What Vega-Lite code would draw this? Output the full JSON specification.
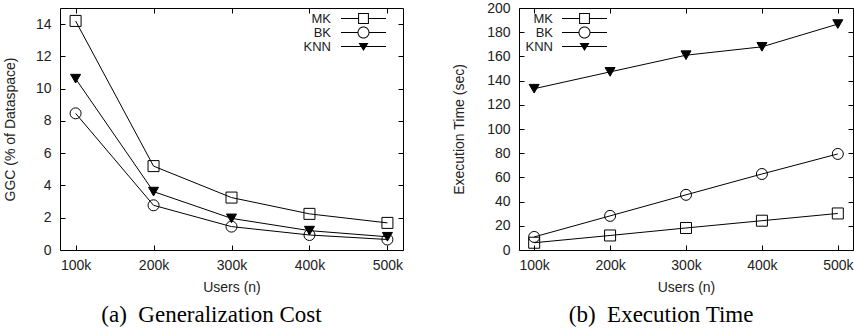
{
  "$schema": "https://vega.github.io/schema/vega-lite/v6.json",
  "background": "white",
  "padding": {"left": 2, "top": 0, "right": 0, "bottom": 0},
  "spacing": 48,
  "datasets": {
    "ggc": [
      {"n": 100, "series": "MK", "value": 14.2},
      {"n": 200, "series": "MK", "value": 5.2},
      {"n": 300, "series": "MK", "value": 3.25},
      {"n": 400, "series": "MK", "value": 2.24},
      {"n": 500, "series": "MK", "value": 1.68},
      {"n": 100, "series": "BK", "value": 8.47},
      {"n": 200, "series": "BK", "value": 2.77},
      {"n": 300, "series": "BK", "value": 1.45},
      {"n": 400, "series": "BK", "value": 0.93},
      {"n": 500, "series": "BK", "value": 0.65},
      {"n": 100, "series": "KNN", "value": 10.62},
      {"n": 200, "series": "KNN", "value": 3.62},
      {"n": 300, "series": "KNN", "value": 1.96},
      {"n": 400, "series": "KNN", "value": 1.2},
      {"n": 500, "series": "KNN", "value": 0.82}
    ],
    "time": [
      {"n": 100, "series": "MK", "value": 6},
      {"n": 200, "series": "MK", "value": 12},
      {"n": 300, "series": "MK", "value": 18.2},
      {"n": 400, "series": "MK", "value": 24.2},
      {"n": 500, "series": "MK", "value": 30.2},
      {"n": 100, "series": "BK", "value": 10.8},
      {"n": 200, "series": "BK", "value": 28.2},
      {"n": 300, "series": "BK", "value": 45.6},
      {"n": 400, "series": "BK", "value": 62.8},
      {"n": 500, "series": "BK", "value": 79.4},
      {"n": 100, "series": "KNN", "value": 133.3},
      {"n": 200, "series": "KNN", "value": 147.2},
      {"n": 300, "series": "KNN", "value": 161},
      {"n": 400, "series": "KNN", "value": 167.9},
      {"n": 500, "series": "KNN", "value": 186.7}
    ]
  },
  "hconcat": [
    {
      "width": 343,
      "height": 242,
      "data": {"name": "ggc"},
      "title": {"text": "(a)\u00a0 Generalization Cost", "orient": "bottom", "font": "Liberation Serif", "fontSize": 23, "fontWeight": "normal", "color": "black", "frame": "bounds", "anchor": "middle", "dx": 8, "offset": 10},
      "layer": [
        {
          "mark": {"type": "line", "color": "black", "strokeWidth": 1},
          "encoding": {
            "x": {"field": "n", "type": "quantitative", "scale": {"domain": [80, 520], "nice": false, "zero": false}, "axis": {"orient": "bottom", "values": [100, 200, 300, 400, 500], "labelExpr": "datum.value + 'k'", "title": "Users (n)", "labelPadding": 13, "titleY": 30, "titleBaseline": "top"}},
            "y": {"field": "value", "type": "quantitative", "scale": {"domain": [0, 15], "nice": false}, "axis": {"orient": "left", "values": [0, 2, 4, 6, 8, 10, 12, 14], "title": "GGC (% of Dataspace)", "labelPadding": 14, "titlePadding": 18}},
            "detail": {"field": "series"}
          }
        },
        {
          "mark": {"type": "point", "filled": true, "stroke": "black", "strokeWidth": 1, "opacity": 1},
          "encoding": {
            "x": {"field": "n", "type": "quantitative", "scale": {"domain": [80, 520], "nice": false, "zero": false}, "axis": {"orient": "top", "values": [100, 200, 300, 400, 500], "labels": false, "title": null}},
            "y": {"field": "value", "type": "quantitative", "scale": {"domain": [0, 15], "nice": false}, "axis": {"orient": "right", "values": [0, 2, 4, 6, 8, 10, 12, 14], "labels": false, "title": null}},
            "shape": {"condition": [{"test": "datum.series === 'MK'", "value": "square"}, {"test": "datum.series === 'BK'", "value": "circle"}], "value": "triangle-down"},
            "fill": {"condition": {"test": "datum.series === 'KNN'", "value": "black"}, "value": "transparent"},
            "size": {"condition": {"test": "datum.series === 'KNN'", "value": 100}, "value": 121}
          }
        },
        {
          "mark": {"type": "point", "filled": true, "color": "black", "opacity": 0},
          "encoding": {
            "shape": {"field": "series", "type": "nominal",
              "scale": {"domain": ["MK", "BK", "KNN"], "range": [
                "M-3.75,-0.083H-0.9V0.083H-3.75Z M0.9,-0.083H3.75V0.083H0.9Z M-0.9,-0.9H0.9V0.9H-0.9Z M-0.733,-0.733V0.733H0.733V-0.733Z",
                "M-3.75,-0.083H-1V0.083H-3.75Z M1,-0.083H3.75V0.083H1Z M1,0A1,1,0,1,1,-1,0A1,1,0,1,1,1,0Z M0.833,0A0.833,0.833,0,1,0,-0.833,0A0.833,0.833,0,1,0,0.833,0Z",
                "M-3.75,-0.083H3.75V0.083H-3.75Z M-0.83,-0.6L0.83,-0.6L0,0.75Z"]},
              "legend": {"orient": "none", "legendX": 297, "legendY": 4, "title": null, "padding": 0, "rowPadding": -2, "labelAlign": "right", "labelOffset": -39, "symbolSize": 144, "symbolFillColor": "black", "symbolStrokeColor": "transparent", "symbolStrokeWidth": 0, "symbolOpacity": 1}}
          }
        }
      ],
      "resolve": {"scale": {"x": "independent", "y": "independent"}}
    },
    {
      "width": 334,
      "height": 242,
      "data": {"name": "time"},
      "title": {"text": "(b)\u00a0 Execution Time", "orient": "bottom", "font": "Liberation Serif", "fontSize": 23, "fontWeight": "normal", "color": "black", "frame": "bounds", "anchor": "middle", "dx": 8, "offset": 10},
      "layer": [
        {
          "mark": {"type": "line", "color": "black", "strokeWidth": 1},
          "encoding": {
            "x": {"field": "n", "type": "quantitative", "scale": {"domain": [80, 520], "nice": false, "zero": false}, "axis": {"orient": "bottom", "values": [100, 200, 300, 400, 500], "labelExpr": "datum.value + 'k'", "title": "Users (n)", "labelPadding": 13, "titleY": 30, "titleBaseline": "top"}},
            "y": {"field": "value", "type": "quantitative", "scale": {"domain": [0, 200], "nice": false}, "axis": {"orient": "left", "values": [0, 20, 40, 60, 80, 100, 120, 140, 160, 180, 200], "title": "Execution Time (sec)", "labelPadding": 14, "titlePadding": 20}},
            "detail": {"field": "series"}
          }
        },
        {
          "mark": {"type": "point", "filled": true, "stroke": "black", "strokeWidth": 1, "opacity": 1},
          "encoding": {
            "x": {"field": "n", "type": "quantitative", "scale": {"domain": [80, 520], "nice": false, "zero": false}, "axis": {"orient": "top", "values": [100, 200, 300, 400, 500], "labels": false, "title": null}},
            "y": {"field": "value", "type": "quantitative", "scale": {"domain": [0, 200], "nice": false}, "axis": {"orient": "right", "values": [0, 20, 40, 60, 80, 100, 120, 140, 160, 180, 200], "labels": false, "title": null}},
            "shape": {"condition": [{"test": "datum.series === 'MK'", "value": "square"}, {"test": "datum.series === 'BK'", "value": "circle"}], "value": "triangle-down"},
            "fill": {"condition": {"test": "datum.series === 'KNN'", "value": "black"}, "value": "transparent"},
            "size": {"condition": {"test": "datum.series === 'KNN'", "value": 100}, "value": 121}
          }
        },
        {
          "mark": {"type": "point", "filled": true, "color": "black", "opacity": 0},
          "encoding": {
            "shape": {"field": "series", "type": "nominal",
              "scale": {"domain": ["MK", "BK", "KNN"], "range": [
                "M-3.75,-0.083H-0.9V0.083H-3.75Z M0.9,-0.083H3.75V0.083H0.9Z M-0.9,-0.9H0.9V0.9H-0.9Z M-0.733,-0.733V0.733H0.733V-0.733Z",
                "M-3.75,-0.083H-1V0.083H-3.75Z M1,-0.083H3.75V0.083H1Z M1,0A1,1,0,1,1,-1,0A1,1,0,1,1,1,0Z M0.833,0A0.833,0.833,0,1,0,-0.833,0A0.833,0.833,0,1,0,0.833,0Z",
                "M-3.75,-0.083H3.75V0.083H-3.75Z M-0.83,-0.6L0.83,-0.6L0,0.75Z"]},
              "legend": {"orient": "none", "legendX": 59, "legendY": 4, "title": null, "padding": 0, "rowPadding": -2, "labelAlign": "right", "labelOffset": -38, "symbolSize": 144, "symbolFillColor": "black", "symbolStrokeColor": "transparent", "symbolStrokeWidth": 0, "symbolOpacity": 1}}
          }
        }
      ],
      "resolve": {"scale": {"x": "independent", "y": "independent"}}
    }
  ],
  "resolve": {"scale": {"shape": "independent"}},
  "config": {
    "view": {"stroke": "black", "strokeWidth": 1},
    "axis": {
      "domain": false,
      "grid": false,
      "ticks": true,
      "tickSize": -5,
      "tickColor": "black",
      "tickWidth": 1,
      "labelFont": "Liberation Sans",
      "labelFontSize": 14,
      "labelColor": "#222",
      "titleFont": "Liberation Sans",
      "titleFontSize": 14,
      "titleFontWeight": "normal",
      "titleColor": "#222"
    },
    "legend": {
      "labelFont": "Liberation Sans",
      "labelFontSize": 13,
      "labelColor": "#222",
      "labelLimit": 200
    }
  }
}
